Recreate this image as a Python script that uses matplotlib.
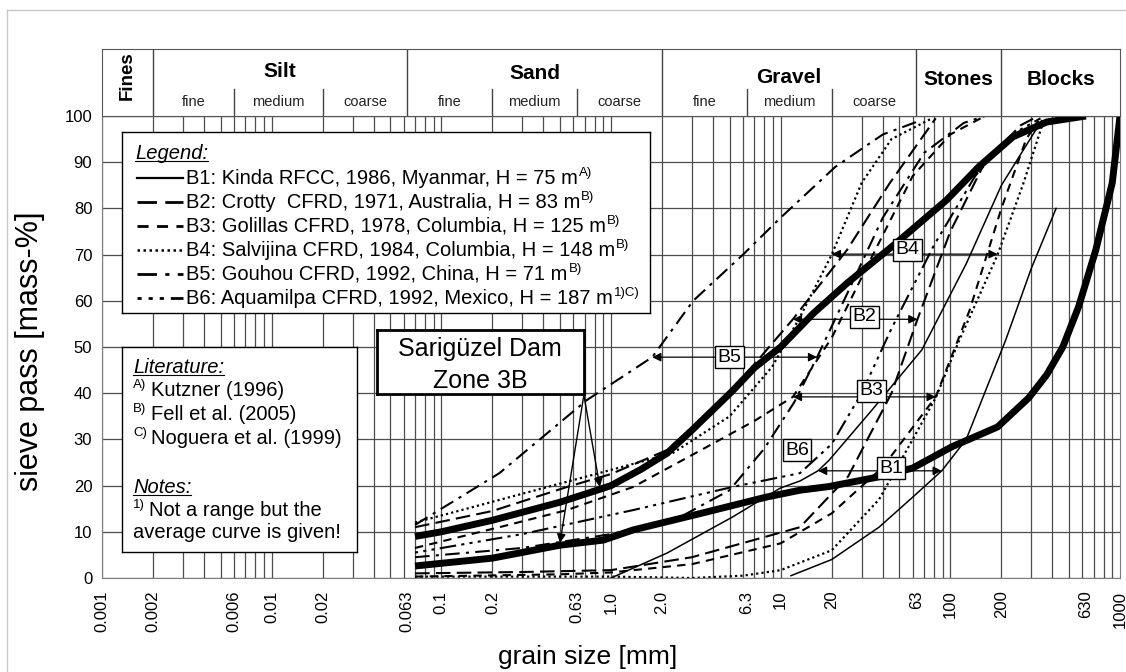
import matplotlib
matplotlib.use('Agg')
import matplotlib.pyplot as plt
from matplotlib.lines import Line2D

plt.rcParams['font.family'] = ['Liberation Sans', 'DejaVu Sans']

# ---- data: grain size [mm] / sieve pass [mass-%] ----
# Sarigüzel Dam, zone 3B (envelope)
sg_up_x = [0.07, 0.1, 0.2, 0.5, 0.86, 1.0, 1.5, 2.14, 3.0, 5.2, 7.0, 10, 15.6, 24.6, 48, 95, 147, 234, 370, 630]
sg_up_y = [9, 10, 12.5, 16.4, 19.2, 20, 23.5, 27, 32, 40.5, 45.5, 50, 57.3, 63.8, 72.5, 81.8, 89, 95.5, 98.7, 100]
sg_lo_x = [0.07, 0.2, 0.5, 0.9, 1.35, 3.4, 8.2, 13, 19.3, 38, 60, 102, 190, 290, 370, 460, 570, 720, 900, 1000]
sg_lo_y = [2.6, 4.3, 7.1, 8.2, 10.4, 14, 17.5, 19, 19.8, 21.9, 23.8, 28.4, 32.7, 39, 44, 50, 58.7, 71, 85.5, 100]

# B1 Kinda
b1_fine_x = [1.0, 2.14, 5.2, 10, 13, 16.6, 19.3, 34.6, 68, 124, 200, 345]
b1_fine_y = [0, 5.4, 13.2, 19.5, 21, 23.2, 25.5, 36.4, 49.4, 68, 85, 99]
b1_coarse_x = [11.5, 20, 38, 60, 89, 124, 212, 300, 420]
b1_coarse_y = [0.5, 4, 11, 17.5, 23.2, 30, 51.5, 67, 80]
# B2 Crotty
b2_fine_x = [0.07, 0.2, 0.55, 1.0, 2.14, 5, 11.8, 24.6, 44, 82]
b2_fine_y = [11, 14.5, 19.7, 22.5, 27.7, 40, 56, 71, 85.5, 99.5]
b2_coarse_x = [0.07, 0.3, 1.0, 3, 13, 25, 45, 64, 100, 160, 260, 330]
b2_coarse_y = [1, 1.3, 1.7, 4.5, 11, 22, 40, 56, 75, 90, 98, 100]
# B3 Golillas
b3_fine_x = [0.07, 0.22, 0.55, 1.35, 3.4, 7, 11.8, 20, 35, 60, 100, 160]
b3_fine_y = [6.5, 11, 14.7, 19.7, 27.7, 34, 39.2, 52, 70, 87, 96, 100]
b3_coarse_x = [0.07, 0.5, 1.0, 3, 10, 20, 40, 82, 130, 200, 280, 330]
b3_coarse_y = [0.3, 0.8, 1.2, 3, 7.5, 14, 24, 39.2, 58, 80, 95, 99]
# B4 Salvijina
b4_fine_x = [0.07, 0.2, 0.6, 1.0, 2.3, 5, 8.9, 13, 20, 30, 45, 78]
b4_fine_y = [12, 16.5, 21.2, 23.4, 27, 35, 45.7, 56.5, 70, 85.5, 95, 99.5]
b4_coarse_x = [0.07, 0.5, 1.0, 3, 6, 10, 20, 38, 60, 82, 113, 190, 270, 345, 400]
b4_coarse_y = [0.3, 0.3, 0.3, 0, 0.5, 1.7, 6, 17, 30, 39, 51.5, 70, 85.5, 97.6, 100]
# B5 Gouhou
b5_fine_x = [0.07, 0.22, 0.72, 1.75, 3.05, 6, 10, 21, 40, 63]
b5_fine_y = [11.5, 22.7, 38.5, 47.8, 60, 70, 78, 89, 96, 98.7]
b5_coarse_x = [0.07, 0.3, 1.0, 2.5, 5, 8, 12, 16.4, 25, 40, 70, 120, 160]
b5_coarse_y = [4.5, 6.5, 9.5, 13, 19, 28, 38, 47.8, 62, 78, 92, 98.5, 100]
# B6 Aquamilpa (average curve)
b6_x = [0.07, 0.3, 1.35, 5.2, 13, 20, 30, 45, 80, 140, 230, 340]
b6_y = [5.5, 9.5, 14.7, 19.7, 22.7, 29, 40, 54, 72, 87, 96, 99.5]

# range arrows between fine and coarse limit
rng_names = ['B1', 'B2', 'B3', 'B4', 'B5']
rng_y = [23.2, 56, 39.2, 70.1, 47.8]
rng_left = [16.6, 11.8, 11.8, 20, 1.75]
rng_right = [89, 64, 82, 190, 16.4]
lab_names = ['B1', 'B2', 'B3', 'B4', 'B5', 'B6']
lab_x = [44.6, 31.3, 34.4, 56, 5.0, 12.5]
lab_y = [23.8, 56.5, 40.5, 71, 47.8, 27.7]

# axis ticks
xt = [0.001, 0.002, 0.006, 0.01, 0.02, 0.063, 0.1, 0.2, 0.63, 1.0, 2.0, 6.3, 10, 20, 63, 100, 200, 630, 1000]
xt_lab = ['0.001', '0.002', '0.006', '0.01', '0.02', '0.063', '0.1', '0.2', '0.63', '1.0', '2.0',
          '6.3', '10', '20', '63', '100', '200', '630', '1000']
yt = list(range(0, 101, 10))

# soil classes for the header
main_cls = ['Silt', 'Sand', 'Gravel', 'Stones', 'Blocks']
main_lo = [0.002, 0.063, 2.0, 63, 200]
main_hi = [0.063, 2.0, 63, 200, 1000]
main_ty = [0.66, 0.64, 0.57, 0.55, 0.55]
sub_cls = ['fine', 'medium', 'coarse']
sub_bounds = [[0.002, 0.006, 0.02, 0.063], [0.063, 0.2, 0.63, 2.0], [2.0, 6.3, 20, 63]]

legend_txt = ['B1: Kinda RFCC, 1986, Myanmar, H = 75 m',
              'B2: Crotty  CFRD, 1971, Australia, H = 83 m',
              'B3: Golillas CFRD, 1978, Columbia, H = 125 m',
              'B4: Salvijina CFRD, 1984, Columbia, H = 148 m',
              'B5: Gouhou CFRD, 1992, China, H = 71 m',
              'B6: Aquamilpa CFRD, 1992, Mexico, H = 187 m']
legend_sup = ['A)', 'B)', 'B)', 'B)', 'B)', '1)C)']
lit_sup = ['A)', 'B)', 'C)']
lit_txt = ['Kutzner (1996)', 'Fell et al. (2005)', 'Noguera et al. (1999)']

# ---- styles ----
K = 'black'
LS_B1 = '-'
LS_B2 = (0, (7, 3))
LS_B3 = (0, (4, 3))
LS_B4 = (0, (1, 1.4))
LS_B5 = (0, (7, 3, 1.5, 3))
LS_B6 = (0, (1.5, 2.5, 1.5, 2.5, 1.5, 2.5, 8, 2.5))
FS_BOX = 14.5
FS_SUP = 9.5

W, H = 1126, 672
fig = plt.figure(figsize=(W / 100, H / 100), dpi=100)


def box(x0, y0, x1, y1):
    # pixel rectangle (top-left origin) -> figure fraction
    return [x0 / W, 1 - y1 / H, (x1 - x0) / W, (y1 - y0) / H]


def pixel_axes(x0, y0, x1, y1, lw=1):
    # framed overlay box whose data coords are figure pixels
    a = fig.add_axes(box(x0, y0, x1, y1))
    a.set_xlim(x0, x1)
    a.set_ylim(y1, y0)
    a.set_xticks([])
    a.set_yticks([])
    for s in a.spines.values():
        s.set_color(K)
        s.set_linewidth(lw)
    return a


# ---- main axes ----
ax = fig.add_axes(box(102, 116, 1120, 578))
ax.set_xscale('log')
ax.set_xlim(0.001, 1000)
ax.set_ylim(0, 100)
ax.xaxis.set_minor_locator(matplotlib.ticker.NullLocator())
ax.set_xticks(xt)
ax.set_xticklabels(xt_lab)
ax.set_yticks(yt)
ax.tick_params(axis='x', length=0, pad=9, labelsize=12, labelrotation=90)
ax.tick_params(axis='y', length=0, pad=7, labelsize=12)
for s in ax.spines.values():
    s.set_color('#7f7f7f')

# grid
ax.grid(axis='y', color='#4d4d4d', lw=0.9, zorder=1)
for k in range(-3, 3):
    for m in range(1, 10):
        ax.axvline(m * 10.0 ** k, color='#4d4d4d', lw=0.9, zorder=1)
ax.set_axisbelow(True)

# curves
ax.plot(sg_up_x, sg_up_y, color=K, lw=5, solid_capstyle='butt', zorder=3)
ax.plot(sg_lo_x, sg_lo_y, color=K, lw=5, solid_capstyle='butt', zorder=3)
ax.plot(b1_fine_x, b1_fine_y, color=K, lw=1.1, ls=LS_B1, zorder=2)
ax.plot(b1_coarse_x, b1_coarse_y, color=K, lw=1.1, ls=LS_B1, zorder=2)
ax.plot(b2_fine_x, b2_fine_y, color=K, lw=1.5, ls=LS_B2, zorder=2)
ax.plot(b2_coarse_x, b2_coarse_y, color=K, lw=1.5, ls=LS_B2, zorder=2)
ax.plot(b3_fine_x, b3_fine_y, color=K, lw=1.5, ls=LS_B3, zorder=2)
ax.plot(b3_coarse_x, b3_coarse_y, color=K, lw=1.5, ls=LS_B3, zorder=2)
ax.plot(b4_fine_x, b4_fine_y, color=K, lw=1.6, ls=LS_B4, zorder=2)
ax.plot(b4_coarse_x, b4_coarse_y, color=K, lw=1.6, ls=LS_B4, zorder=2)
ax.plot(b5_fine_x, b5_fine_y, color=K, lw=1.5, ls=LS_B5, zorder=2)
ax.plot(b5_coarse_x, b5_coarse_y, color=K, lw=1.5, ls=LS_B5, zorder=2)
ax.plot(b6_x, b6_y, color=K, lw=1.5, ls=LS_B6, zorder=2)

# range arrows + labels
for i in range(len(rng_names)):
    ax.annotate('', xy=(rng_left[i], rng_y[i]), xytext=(rng_right[i], rng_y[i]),
                arrowprops=dict(arrowstyle='<|-|>', color=K, lw=0.9, mutation_scale=13,
                                shrinkA=0, shrinkB=0), zorder=4)
for i in range(len(lab_names)):
    ax.text(lab_x[i], lab_y[i], lab_names[i], ha='center', va='center', fontsize=14, zorder=6,
            bbox=dict(boxstyle='square,pad=0.12', fc='white', ec=K, lw=1))

# arrows from the Sarigüzel box to its two curves
for tx, ty in [(0.86, 19.7), (0.50, 7.6)]:
    ax.annotate('', xy=(tx, ty), xytext=(0.692, 39.6),
                arrowprops=dict(arrowstyle='-|>', color=K, lw=1, mutation_scale=13,
                                shrinkA=0, shrinkB=0), zorder=5)

# ---- header with soil classes ----
hx = fig.add_axes(box(102, 49, 1120, 116))
hx.set_xscale('log')
hx.set_xlim(0.001, 1000)
hx.set_ylim(0, 1)
hx.xaxis.set_minor_locator(matplotlib.ticker.NullLocator())
hx.set_xticks([])
hx.set_yticks([])
for s in hx.spines.values():
    s.set_color('#555555')
for i in range(len(main_cls)):
    hx.axvline(main_lo[i], color='#444444', lw=1)
    xc = (main_lo[i] * main_hi[i]) ** 0.5
    hx.text(xc, main_ty[i], main_cls[i], ha='center', va='center', fontsize=15, fontweight='bold')
for bnd in sub_bounds:
    for j in range(3):
        if j > 0:
            hx.axvline(bnd[j], ymax=0.4, color='#444444', lw=1)
        xc = (bnd[j] * bnd[j + 1]) ** 0.5
        hx.text(xc, 0.21, sub_cls[j], ha='center', va='center', fontsize=10.5, color='#222222')
hx.text(0.00141, 0.61, 'Fines', rotation=90, ha='center', va='center', fontsize=13.5, fontweight='bold')

# ---- legend box ----
lg = pixel_axes(122, 132, 650, 313)
t_leg = lg.text(135, 159, 'Legend:', fontsize=FS_BOX, style='italic', va='baseline')
rows = [178, 202, 226, 250, 274, 298]
styles = [(LS_B1, 1.6), (LS_B2, 2.0), (LS_B3, 2.0), (LS_B4, 1.8), (LS_B5, 2.0), (LS_B6, 2.0)]
leg_texts = []
for i in range(6):
    lg.plot([137, 183], [rows[i], rows[i]], color=K, ls=styles[i][0], lw=styles[i][1])
    leg_texts.append(lg.text(186, rows[i], legend_txt[i], fontsize=FS_BOX, va='center'))

# ---- literature / notes box ----
lt = pixel_axes(122, 347, 357, 552)
t_lit = lt.text(133, 373, 'Literature:', fontsize=FS_BOX, style='italic', va='baseline')
for i, yy in enumerate([390, 414, 438]):
    lt.text(133, yy - 5, lit_sup[i], fontsize=FS_SUP, va='center')
    lt.text(151, yy, lit_txt[i], fontsize=FS_BOX, va='center')
t_not = lt.text(133, 493, 'Notes:', fontsize=FS_BOX, style='italic', va='baseline')
lt.text(133, 505, '1)', fontsize=FS_SUP, va='center')
lt.text(149, 510, 'Not a range but the', fontsize=FS_BOX, va='center')
lt.text(133, 533, 'average curve is given!', fontsize=FS_BOX, va='center')

# ---- Sarigüzel box ----
sb = pixel_axes(377, 330, 584, 394, lw=2)
sb.text(480, 349, 'Sarigüzel Dam', fontsize=18, ha='center', va='center')
sb.text(480, 381, 'Zone 3B', fontsize=18, ha='center', va='center')

# axis titles
fig.text(30 / W, 1 - 351 / H, 'sieve pass [mass-%]', rotation=90, fontsize=22, ha='center', va='center')
fig.text(588 / W, 1 - 657 / H, 'grain size [mm]', fontsize=19, ha='center', va='center')

# outer light frame
fig.add_artist(Line2D([7 / W, 7 / W], [1 - 10 / H, 0], color='#c8c8c8', lw=1))
fig.add_artist(Line2D([7 / W, 1], [1 - 10 / H, 1 - 10 / H], color='#c8c8c8', lw=1))

# superscript references after the legend entries, underlines for the headings
fig.canvas.draw()
for i, t in enumerate(leg_texts):
    bb = t.get_window_extent()
    xd, _ = lg.transData.inverted().transform((bb.x1 + 1, bb.y0))
    lg.text(xd, rows[i] - 5, legend_sup[i], fontsize=FS_SUP, va='center')
for t in [t_leg, t_lit, t_not]:
    bb = t.get_window_extent()
    _, by = t.get_transform().transform(t.get_position())
    fig.add_artist(Line2D([bb.x0 / W, bb.x1 / W], [(by - 2) / H, (by - 2) / H], color=K, lw=0.8))

fig.savefig('out.png', dpi=100)
